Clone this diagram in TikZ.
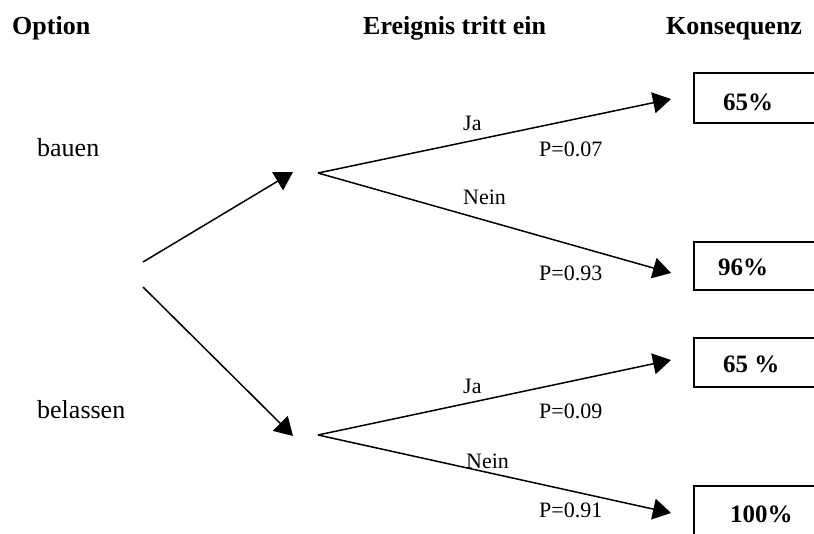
\documentclass[tikz,border=0pt]{standalone}
\usepackage{fontspec}
\setmainfont{Liberation Serif}
\usetikzlibrary{arrows.meta}
\tikzset{
  conn/.style={line width=1.5pt, -{Triangle[length=18pt,width=21pt]}},
  plain/.style={line width=1.5pt},
  head/.style={anchor=base west, inner sep=0pt, font=\fontsize{26}{30}\selectfont\bfseries},
  opt/.style={anchor=base west, inner sep=0pt, font=\fontsize{26}{30}\selectfont},
  lab/.style={anchor=base west, inner sep=0pt, font=\fontsize{22}{26}\selectfont},
  res/.style={anchor=base west, inner sep=0pt, font=\fontsize{25}{30}\selectfont\bfseries},
  box/.style={draw, line width=1.5pt}
}
\begin{document}
\begin{tikzpicture}[x=1pt,y=-1pt]
\useasboundingbox (0,0) rectangle (814,533);
\clip (0,0) rectangle (814,533);
% headers
\node[head] (hOpt) at (12,34) {Option};
\node[head] (hEv) at (363,34) {Ereignis tritt ein};
\node[head] (hKo) at (666,34) {Konsequenz};
% options
\node[opt] (bauen) at (37,156) {bauen};
\node[opt] (belassen) at (37,418) {belassen};
% coordinates
\coordinate (s1) at (143,262);
\coordinate (s2) at (143,287);
\coordinate (d1) at (293,172);
\coordinate (d2) at (293,436);
\coordinate (c1) at (318,173);
\coordinate (c2) at (318,435);
\coordinate (t1) at (671,99);
\coordinate (t2) at (671,273);
\coordinate (t3) at (671,360);
\coordinate (t4) at (671,513);
% left arrows
\draw[conn] (s1) -- (d1);
\draw[conn] (s2) -- (d2);
% branch arrows
\draw[conn] (c1) -- (t1);
\draw[conn] (c1) -- (t2);
\draw[conn] (c2) -- (t3);
\draw[conn] (c2) -- (t4);
% labels
\node[lab] (ja1) at (463,130) {Ja};
\node[lab] (p1) at (539,156) {P=0.07};
\node[lab] (nein1) at (463,204) {Nein};
\node[lab] (p2) at (539,280) {P=0.93};
\node[lab] (ja2) at (463,393) {Ja};
\node[lab] (p3) at (539,418) {P=0.09};
\node[lab] (nein2) at (466,468) {Nein};
\node[lab] (p4) at (539,517) {P=0.91};
% result boxes
\draw[box] (694,73) rectangle (840,123);
\draw[box] (694,242) rectangle (840,290);
\draw[box] (694,338) rectangle (840,387);
\draw[box] (694,486) rectangle (840,560);
\node[res] (r1) at (723,110) {65\%};
\node[res] (r2) at (718,275) {96\%};
\node[res] (r3) at (723,372) {65 \%};
\node[res] (r4) at (730,522) {100\%};
\end{tikzpicture}
\end{document}
